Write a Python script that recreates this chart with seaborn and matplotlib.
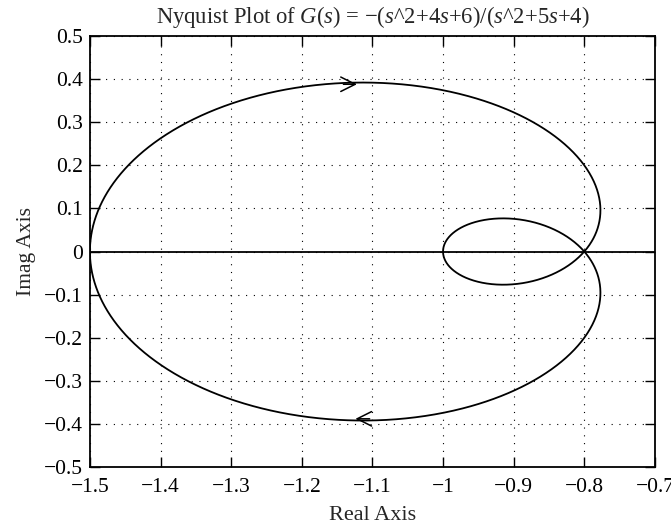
import numpy as np
import pandas as pd
import matplotlib
matplotlib.use('Agg')
import matplotlib.pyplot as plt
import seaborn as sns

# transfer function read from the title: G(s) = -(s^2+4s+6)/(s^2+5s+4)
num = [-1, -4, -6]
den = [1, 5, 4]

x_ticks = [-1.5, -1.4, -1.3, -1.2, -1.1, -1.0, -0.9, -0.8, -0.7]
x_labels = ['\u22121.5', '\u22121.4', '\u22121.3', '\u22121.2', '\u22121.1', '\u22121', '\u22120.9', '\u22120.8', '\u22120.7']
y_ticks = [-0.5, -0.4, -0.3, -0.2, -0.1, 0.0, 0.1, 0.2, 0.3, 0.4, 0.5]
y_labels = ['\u22120.5', '\u22120.4', '\u22120.3', '\u22120.2', '\u22120.1', '0', '0.1', '0.2', '0.3', '0.4', '0.5']

# frequency response on the imaginary axis
w = np.concatenate([[0.0], np.logspace(-2, 3, 3000)])
G = np.polyval(num, 1j * w) / np.polyval(den, 1j * w)

df = pd.concat([
    pd.DataFrame({'re': G.real, 'im': G.imag, 'branch': 'pos'}),
    pd.DataFrame({'re': G.real[::-1], 'im': -G.imag[::-1], 'branch': 'neg'}),
])

sns.set_style('ticks')
plt.rcParams['font.family'] = ['Liberation Serif', 'DejaVu Serif']
plt.rcParams['mathtext.fontset'] = 'custom'
plt.rcParams['mathtext.rm'] = 'Liberation Serif'
plt.rcParams['mathtext.it'] = 'Liberation Serif:italic'

fig = plt.figure(figsize=(6.71, 5.29), dpi=100)
ax = fig.add_axes([0.134, 0.117, 0.842, 0.815])

sns.lineplot(data=df, x='re', y='im', units='branch', estimator=None, sort=False,
             color='black', linewidth=1.3, ax=ax, legend=False)
ax.axhline(0, color='black', linewidth=1.3)

# direction arrows
ax.annotate('', xy=(-1.118, 0.388), xytext=(-1.145, 0.388),
            arrowprops=dict(arrowstyle='->', color='black', lw=1.1, mutation_scale=26))
ax.annotate('', xy=(-1.128, -0.388), xytext=(-1.10, -0.388),
            arrowprops=dict(arrowstyle='->', color='black', lw=1.1, mutation_scale=26))

ax.set_xlim(-1.5, -0.7)
ax.set_ylim(-0.5, 0.5)
ax.set_xticks(x_ticks)
ax.set_xticklabels(x_labels)
ax.set_yticks(y_ticks)
ax.set_yticklabels(y_labels)
ax.grid(True, color='black', linestyle=(0, (1, 6)), linewidth=0.8)
ax.tick_params(direction='in', length=7, width=1, top=True, right=True,
               labelsize=15.5, colors='black')
ax.tick_params(axis='x', pad=8)
ax.tick_params(axis='y', pad=5)
for sp in ax.spines.values():
    sp.set_visible(True)
    sp.set_linewidth(1.3)
    sp.set_color('black')

ax.set_xlabel('Real Axis', fontsize=16, labelpad=6)
ax.set_ylabel('Imag Axis', fontsize=15.5, labelpad=6)
ax.set_title(r'Nyquist Plot of $G(s)$ = $-$($s$^2+4$s$+6)/($s$^2+5$s$+4)', fontsize=16.3, pad=9)

fig.savefig('out.png', dpi=100)
